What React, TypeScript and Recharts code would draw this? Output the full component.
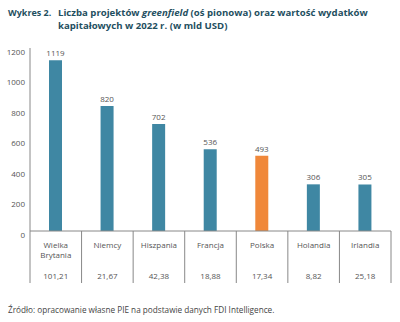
import { BarChart, Bar, XAxis, YAxis, Cell, LabelList } from "recharts";

const kraje = ["Wielka\nBrytania", "Niemcy", "Hiszpania", "Francja", "Polska", "Holandia", "Irlandia"];
const projekty = [1119, 820, 702, 536, 493, 306, 305];
const wydatki = ["101,21", "21,67", "42,38", "18,88", "17,34", "8,82", "25,18"];
const yTicks = [0, 200, 400, 600, 800, 1000, 1200];

const TEAL = "#3f87a3";
const ORANGE = "#f0883a";
const FONT = "'Open Sans', 'Noto Sans', sans-serif";

const W = 400;
const H = 322;
const M = { top: 48, right: 9, left: 0, bottom: 39 };
const Y_W = 30;
const band = (W - M.left - M.right - Y_W) / kraje.length;

const dane = kraje.map((k, i) => ({ nazwa: k, projekty: projekty[i], wydatki: wydatki[i] }));

function TickKraj(props: any) {
  const { x, y, index } = props;
  const linie = kraje[index].split("\n");
  const left = x - band / 2;
  const right = x + band / 2;
  return (
    <g>
      <line x1={left} y1={y} x2={left} y2={y + 52} stroke="#888" strokeWidth={1} />
      {index === kraje.length - 1 && (
        <line x1={right} y1={y} x2={right} y2={y + 52} stroke="#888" strokeWidth={1} />
      )}
      {linie.map((l, i) => (
        <text key={i} x={x} y={y + 17 + i * 9.5} textAnchor="middle" fontSize={8} fill="#555" fontFamily={FONT}>
          {l}
        </text>
      ))}
      <text x={x} y={y + 47.5} textAnchor="middle" fontSize={8} fill="#555" fontFamily={FONT}>
        {wydatki[index]}
      </text>
    </g>
  );
}

export default function App() {
  return (
    <div style={{ position: "absolute", left: 0, top: 0, width: W, height: H, background: "#fff", fontFamily: FONT }}>
      <div style={{ position: "absolute", left: 8, top: 7, fontSize: 9.6, fontWeight: 700, color: "#1f4f5f", lineHeight: "12.7px" }}>
        <span style={{ position: "absolute", left: 0, top: 0, whiteSpace: "nowrap", fontSize: 9 }}>Wykres 2.</span>
        <div style={{ position: "absolute", left: 50, top: 0, whiteSpace: "nowrap" }}>
          Liczba projektów <i>greenfield</i> (oś pionowa) oraz wartość wydatków
          <br />
          kapitałowych w 2022 r. (w mld USD)
        </div>
      </div>
      <div style={{ position: "absolute", left: 0, top: 0 }}>
        <BarChart width={W} height={H} data={dane} margin={M}>
          <YAxis
            width={Y_W}
            domain={[0, 1200]}
            ticks={yTicks}
            tickLine={false}
            tickSize={0}
            tickMargin={5}
            axisLine={{ stroke: "#888" }}
            tick={{ fontSize: 8, fill: "#555", fontFamily: FONT, dy: 4 }}
          />
          <XAxis
            dataKey="nazwa"
            interval={0}
            height={52}
            tickLine={false}
            tickSize={0}
            tickMargin={0}
            axisLine={{ stroke: "#888" }}
            tick={<TickKraj />}
          />
          <Bar dataKey="projekty" barSize={13} isAnimationActive={false}>
            {dane.map((d) => (
              <Cell key={d.nazwa} fill={d.nazwa === "Polska" ? ORANGE : TEAL} />
            ))}
            <LabelList dataKey="projekty" position="top" offset={4} fontSize={8} fill="#555" fontFamily={FONT} />
          </Bar>
        </BarChart>
      </div>
      <div style={{ position: "absolute", left: 8, top: 304, fontSize: 8.2, color: "#444", whiteSpace: "nowrap" }}>
        Źródło: opracowanie własne PIE na podstawie danych FDI Intelligence.
      </div>
    </div>
  );
}
